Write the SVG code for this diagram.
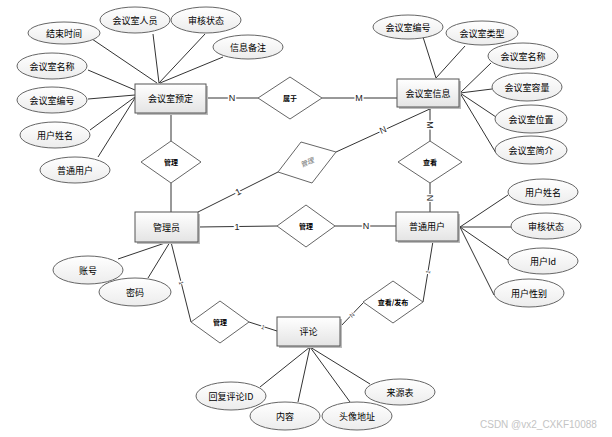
<svg xmlns="http://www.w3.org/2000/svg" width="612" height="437" viewBox="0 0 612 437">
<defs>
<linearGradient id="gb" x1="0" y1="0" x2="0" y2="1"><stop offset="0" stop-color="#ffffff"/><stop offset="1" stop-color="#e4e4e4"/></linearGradient>
<linearGradient id="ge" x1="0" y1="0" x2="0" y2="1"><stop offset="0" stop-color="#ffffff"/><stop offset="1" stop-color="#ececec"/></linearGradient>
<style>
.box{fill:url(#gb);stroke:#555;stroke-width:1}
.sh{fill:#bbb}
.ell{fill:url(#ge);stroke:#666;stroke-width:1}
.dia{fill:#fff;stroke:#666;stroke-width:1}
.ln{stroke:#333;stroke-width:1;fill:none}
.t{font-family:"Noto Sans CJK SC","Liberation Sans",sans-serif;font-size:9px;fill:#000;text-anchor:middle;dominant-baseline:central}
.td{font-family:"Noto Sans CJK SC","Liberation Sans",sans-serif;font-size:7px;font-weight:bold;fill:#000;text-anchor:middle;dominant-baseline:central}
.lb{font-family:"Liberation Sans",sans-serif;font-size:9px;fill:#222;text-anchor:middle;dominant-baseline:central;stroke:#fff;stroke-width:3px;paint-order:stroke}
.ls{font-family:"Liberation Sans",sans-serif;font-size:6px;fill:#444;text-anchor:middle;dominant-baseline:central;stroke:#fff;stroke-width:2px;paint-order:stroke}
</style>
</defs>
<rect width="612" height="437" fill="#fff"/>
<g id="connectors">
<line class="ln" x1="206" y1="98" x2="258" y2="98"/>
<line class="ln" x1="322" y1="98" x2="397" y2="98"/>
<line class="ln" x1="430" y1="107" x2="430" y2="141"/>
<line class="ln" x1="430" y1="183" x2="430" y2="212"/>
<line class="ln" x1="432" y1="108" x2="336" y2="152"/>
<line class="ln" x1="278" y1="172" x2="198" y2="212"/>
<line class="ln" x1="171" y1="113" x2="171" y2="141"/>
<line class="ln" x1="171" y1="183" x2="171" y2="212"/>
<line class="ln" x1="198" y1="227" x2="277" y2="226"/>
<line class="ln" x1="335" y1="226" x2="396" y2="226"/>
<line class="ln" x1="433" y1="241" x2="423" y2="302"/>
<line class="ln" x1="363" y1="303" x2="340" y2="327"/>
<line class="ln" x1="171" y1="242" x2="191" y2="322"/>
<line class="ln" x1="249" y1="322" x2="277" y2="331"/>
<line class="ln" x1="92" y1="39" x2="157" y2="83"/>
<line class="ln" x1="153" y1="34" x2="159" y2="83"/>
<line class="ln" x1="205" y1="34" x2="159" y2="83"/>
<line class="ln" x1="223" y1="57" x2="160" y2="83"/>
<line class="ln" x1="88" y1="70" x2="135" y2="90"/>
<line class="ln" x1="88" y1="99" x2="135" y2="95"/>
<line class="ln" x1="90" y1="130" x2="135" y2="97"/>
<line class="ln" x1="98" y1="157" x2="135" y2="98"/>
<line class="ln" x1="423" y1="37" x2="436" y2="78"/>
<line class="ln" x1="465" y1="46" x2="436" y2="78"/>
<line class="ln" x1="491" y1="63" x2="460" y2="93"/>
<line class="ln" x1="492" y1="89" x2="460" y2="93"/>
<line class="ln" x1="496" y1="117" x2="460" y2="93"/>
<line class="ln" x1="496" y1="153" x2="460" y2="93"/>
<line class="ln" x1="508" y1="195" x2="460" y2="227"/>
<line class="ln" x1="511" y1="227" x2="460" y2="227"/>
<line class="ln" x1="508" y1="260" x2="460" y2="227"/>
<line class="ln" x1="494" y1="295" x2="460" y2="227"/>
<line class="ln" x1="118" y1="259" x2="168" y2="242"/>
<line class="ln" x1="148" y1="278" x2="170" y2="242"/>
<line class="ln" x1="260" y1="387" x2="310" y2="347"/>
<line class="ln" x1="298" y1="402" x2="310" y2="347"/>
<line class="ln" x1="350" y1="402" x2="310" y2="347"/>
<line class="ln" x1="370" y1="384" x2="310" y2="347"/>
<text class="lb" x="232" y="98">N</text>
<text class="lb" x="359" y="98">M</text>
<text class="lb" transform="translate(430,125) rotate(90)">M</text>
<text class="lb" transform="translate(430,198) rotate(90)">N</text>
<text class="lb" transform="translate(383,130) rotate(-24)">N</text>
<text class="lb" transform="translate(238,192) rotate(-27)">1</text>
<text class="lb" x="237" y="227">1</text>
<text class="lb" x="366" y="226">N</text>
<text class="ls" transform="translate(428,272) rotate(-80)">1</text>
<text class="ls" transform="translate(352,315) rotate(-45)">N</text>
<text class="ls" transform="translate(181,283) rotate(76)">1</text>
<text class="ls" transform="translate(263,327) rotate(18)">1</text>
</g>
<g id="n-huiyishiyuding"><rect class="sh" x="137" y="86" width="71" height="29"/><rect class="box" x="135" y="84" width="71" height="29"/><text class="t" x="170.5" y="98.5">会议室预定</text></g>
<g id="n-huiyishixinxi"><rect class="sh" x="399" y="81" width="62" height="28"/><rect class="box" x="397" y="79" width="62" height="28"/><text class="t" x="428" y="93">会议室信息</text></g>
<g id="n-guanliyuan"><rect class="sh" x="137" y="214" width="63" height="30"/><rect class="box" x="135" y="212" width="63" height="30"/><text class="t" x="166.5" y="227">管理员</text></g>
<g id="n-putongyonghu"><rect class="sh" x="398" y="214" width="62" height="29"/><rect class="box" x="396" y="212" width="62" height="29"/><text class="t" x="427" y="226.5">普通用户</text></g>
<g id="n-pinglun"><rect class="sh" x="279" y="319" width="63" height="29"/><rect class="box" x="277" y="317" width="63" height="29"/><text class="t" x="308.5" y="331.5">评论</text></g>
<g id="r-shuyu"><polygon class="dia" points="258,98 290,77 322,98 290,119"/><text class="td" x="290" y="98">属于</text></g>
<g id="r-guanli1"><polygon class="dia" points="141,162 171,141 201,162 171,183"/><text class="td" x="171" y="162">管理</text></g>
<g id="r-chakan"><polygon class="dia" points="398,162 430,141 462,162 430,183"/><text class="td" x="430" y="162">查看</text></g>
<g id="r-guanli2"><polygon class="dia" points="277,226 306,205 335,226 306,247"/><text class="td" x="306" y="226">管理</text></g>
<g id="r-chakanfabu"><polygon class="dia" points="363,302 393,281 423,302 393,323"/><text class="td" x="393" y="302">查看/发布</text></g>
<g id="r-guanli3"><polygon class="dia" points="191,322 220,301 249,322 220,343"/><text class="td" x="220" y="322">管理</text></g>
<g id="r-guanli4"><polygon class="dia" points="278,172 301,142 336,152 312,183"/><text class="td" style="font-weight:normal;fill:#777;font-style:italic" transform="translate(307,162) rotate(-22)">管理</text></g>
<g id="a-jieshushijian"><ellipse class="ell" cx="64" cy="33" rx="36" ry="11"/><text class="t" x="64" y="33">结束时间</text></g>
<g id="a-huiyishirenyuan"><ellipse class="ell" cx="135" cy="20" rx="35" ry="13"/><text class="t" x="135" y="20">会议室人员</text></g>
<g id="a-shenhezhuangtai1"><ellipse class="ell" cx="206" cy="20" rx="35" ry="13"/><text class="t" x="206" y="20">审核状态</text></g>
<g id="a-xinxibeizhu"><ellipse class="ell" cx="248" cy="47" rx="35" ry="12"/><text class="t" x="248" y="47">信息备注</text></g>
<g id="a-mingcheng1"><ellipse class="ell" cx="52" cy="66" rx="35" ry="13"/><text class="t" x="52" y="66">会议室名称</text></g>
<g id="a-bianhao1"><ellipse class="ell" cx="52" cy="100" rx="35" ry="13"/><text class="t" x="52" y="100">会议室编号</text></g>
<g id="a-yonghuxingming1"><ellipse class="ell" cx="55" cy="135" rx="35" ry="13"/><text class="t" x="55" y="135">用户姓名</text></g>
<g id="a-putongyonghu"><ellipse class="ell" cx="75" cy="170" rx="35" ry="13"/><text class="t" x="75" y="170">普通用户</text></g>
<g id="a-bianhao2"><ellipse class="ell" cx="408" cy="27" rx="35" ry="12"/><text class="t" x="408" y="27">会议室编号</text></g>
<g id="a-leixing"><ellipse class="ell" cx="482" cy="33" rx="36" ry="12"/><text class="t" x="482" y="33">会议室类型</text></g>
<g id="a-mingcheng2"><ellipse class="ell" cx="523" cy="56" rx="35" ry="13"/><text class="t" x="523" y="56">会议室名称</text></g>
<g id="a-rongliang"><ellipse class="ell" cx="527" cy="87" rx="35" ry="14"/><text class="t" x="527" y="87">会议室容量</text></g>
<g id="a-weizhi"><ellipse class="ell" cx="531" cy="119" rx="36" ry="14"/><text class="t" x="531" y="119">会议室位置</text></g>
<g id="a-jianjie"><ellipse class="ell" cx="531" cy="150" rx="36" ry="14"/><text class="t" x="531" y="150">会议室简介</text></g>
<g id="a-yonghuxingming2"><ellipse class="ell" cx="543" cy="192" rx="35" ry="13"/><text class="t" x="543" y="192">用户姓名</text></g>
<g id="a-shenhezhuangtai2"><ellipse class="ell" cx="546" cy="226" rx="35" ry="13"/><text class="t" x="546" y="226">审核状态</text></g>
<g id="a-yonghuid"><ellipse class="ell" cx="543" cy="261" rx="35" ry="13"/><text class="t" x="543" y="261">用户Id</text></g>
<g id="a-yonghuxingbie"><ellipse class="ell" cx="529" cy="293" rx="35" ry="14"/><text class="t" x="529" y="293">用户性别</text></g>
<g id="a-zhanghao"><ellipse class="ell" cx="88" cy="270" rx="35" ry="14"/><text class="t" x="88" y="270">账号</text></g>
<g id="a-mima"><ellipse class="ell" cx="135" cy="292" rx="36" ry="14"/><text class="t" x="135" y="292">密码</text></g>
<g id="a-huifupinglunid"><ellipse class="ell" cx="231" cy="396" rx="35" ry="14"/><text class="t" x="231" y="396">回复评论ID</text></g>
<g id="a-neirong"><ellipse class="ell" cx="285" cy="416" rx="35" ry="14"/><text class="t" x="285" y="416">内容</text></g>
<g id="a-touxiangdizhi"><ellipse class="ell" cx="357" cy="416" rx="35" ry="14"/><text class="t" x="357" y="416">头像地址</text></g>
<g id="a-laiyuanbiao"><ellipse class="ell" cx="400" cy="392" rx="35" ry="13"/><text class="t" x="400" y="392">来源表</text></g>
<text x="480" y="428" style="font-family:'Liberation Sans',sans-serif;font-size:10px;fill:#c4c4c4">CSDN @vx2_CXKF10088</text>
</svg>
